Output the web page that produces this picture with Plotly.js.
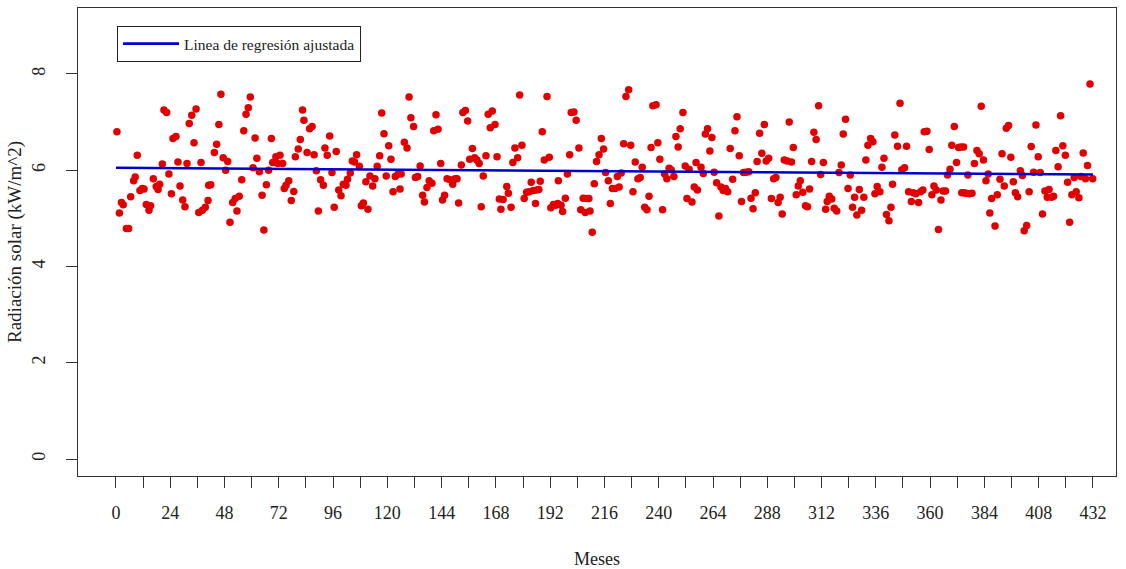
<!DOCTYPE html>
<html>
<head>
<meta charset="utf-8">
<script src="https://cdn.plot.ly/plotly-3.0.1.min.js"></script>
<style>html,body{margin:0;padding:0;background:#fff;}#chart{width:1126px;height:569px;}</style>
</head>
<body>
<div id="chart"></div>
<script>
const months = [
0.4,1.5,2.4,3.2,4.6,5.6,6.5,7.8,8.5,9.4,10.6,11.6,12.4,13.4,14.6,15.3,16.5,17.8,18.6,19.3,20.5,21.2,22.4,23.4,24.5,25.2,26.5,27.4,28.3,29.5,30.5,31.4,32.4,33.5,34.5,35.4,36.6,37.6,38.2,39.5,40.7,
41.0,41.9,43.5,44.5,45.5,46.4,47.4,48.5,49.4,50.4,51.6,52.7,53.5,54.5,55.6,56.5,57.5,58.5,59.4,60.6,61.5,62.3,63.4,64.6,65.4,66.5,67.5,68.7,69.3,70.7,71.5,72.5,73.7,74.4,75.2,76.4,77.5,78.6,79.3,80.6,81.5,82.5,83.1,
84.5,85.6,86.7,87.6,88.6,89.5,90.5,91.7,92.4,93.4,94.5,95.5,96.5,97.4,98.5,99.5,100.5,101.7,102.4,103.6,104.5,105.5,106.4,107.6,108.5,109.4,110.5,111.4,112.3,113.5,114.5,115.5,116.6,117.5,118.5,119.5,120.6,121.6,122.5,123.5,124.8,125.6,126.1,127.5,
128.7,129.6,130.4,131.6,132.4,133.4,134.5,135.6,136.4,137.5,138.5,139.7,140.5,141.5,142.4,143.6,144.4,145.3,146.4,147.8,148.9,150.0,150.8,151.5,152.7,153.4,154.5,155.5,156.4,157.6,158.6,159.6,160.6,161.5,162.4,163.6,164.6,165.5,166.4,167.6,168.5,169.5,170.2,
171.2,172.8,173.5,174.7,175.5,176.4,177.6,178.5,179.5,180.5,181.6,182.7,183.6,184.5,185.5,186.0,187.0,187.6,188.5,189.4,190.6,191.6,192.3,193.4,194.4,195.3,195.6,196.8,197.5,198.7,199.6,200.6,201.3,202.5,203.5,204.7,205.5,206.6,207.5,208.1,209.1,209.6,210.6,211.5,212.5,213.6,
214.6,215.6,216.5,217.7,218.6,219.5,220.7,221.7,222.5,223.4,224.5,225.5,226.7,227.6,228.6,229.6,230.8,231.8,232.7,233.8,234.8,235.7,236.6,237.4,238.8,239.6,240.5,241.7,242.6,243.6,244.6,245.5,246.7,247.6,248.6,249.5,250.7,251.7,252.5,253.4,254.7,255.7,256.5,257.1,
258.7,259.7,260.6,261.6,262.6,263.5,264.5,265.6,266.6,267.5,268.5,269.5,270.5,271.6,272.7,273.7,274.6,275.6,276.6,277.5,278.6,279.8,280.8,281.7,282.7,283.5,284.6,285.6,286.7,287.5,288.6,289.8,290.8,291.8,292.8,293.7,294.6,295.5,296.8,297.7,298.7,299.5,
300.8,301.7,302.6,303.7,304.9,305.8,306.7,307.6,308.6,309.6,310.7,311.6,312.8,313.8,314.5,315.4,316.5,317.6,318.7,319.7,320.7,321.6,322.6,323.7,324.7,325.7,326.6,327.6,328.7,329.7,330.7,331.6,332.5,333.7,334.7,335.6,336.6,337.8,338.7,339.6,340.7,341.8,342.7,343.4,344.4,
345.6,346.7,347.5,348.7,349.6,350.5,351.7,352.5,353.7,354.9,355.8,356.8,357.4,358.6,359.6,360.8,361.7,362.7,363.7,364.8,365.7,366.8,367.7,368.8,369.6,370.7,371.7,372.6,373.6,374.8,374.0,375.0,375.8,377.3,378.5,376.7,379.6,380.7,381.7,382.6,383.6,384.7,385.7,386.4,387.2,
388.7,389.7,390.9,391.8,392.8,393.7,394.7,395.7,396.8,397.7,398.7,399.9,400.8,401.6,402.7,403.8,404.7,405.8,406.8,407.8,408.7,409.7,410.8,411.8,412.6,413.7,414.6,415.6,416.6,417.7,418.7,419.8,420.8,421.7,422.7,423.7,424.6,425.8,426.7,427.7,428.7,429.6,430.7,431.9
];
// Monthly solar radiation (kW/m^2)
const radiation = [
6.80,5.11,5.33,5.28,4.79,4.79,5.45,5.78,5.86,6.31,5.58,5.62,5.61,5.29,5.17,5.26,5.82,5.66,5.60,5.71,6.13,7.25,7.20,5.92,5.51,6.66,6.70,6.17,5.67,5.38,5.24,6.14,6.97,7.14,6.57,7.27,5.12,6.16,5.17,5.23,5.37,
5.69,5.70,6.37,6.54,6.95,7.58,6.26,6.00,6.18,4.92,5.33,5.41,5.15,5.46,5.80,6.82,7.16,7.30,7.52,6.05,6.67,6.25,5.97,5.48,4.76,5.70,6.00,6.66,6.16,6.28,6.14,6.31,6.14,5.62,5.69,5.78,5.37,5.56,6.28,6.44,6.64,7.25,7.04,
6.37,6.86,6.91,6.32,5.99,5.15,5.80,5.69,6.46,6.31,6.71,5.95,5.23,6.39,5.59,5.47,5.71,5.69,5.81,5.94,6.19,6.17,6.32,6.08,5.26,5.32,5.76,5.19,5.88,5.67,5.82,6.08,6.30,7.19,6.76,5.88,6.51,6.23,5.55,5.87,5.92,5.61,5.92,6.58,
6.46,7.52,7.09,6.91,5.85,5.87,6.09,5.48,5.34,5.64,5.78,5.73,6.82,7.15,6.85,6.14,5.38,5.48,5.82,5.80,5.71,5.82,5.82,5.32,6.11,7.20,7.24,7.02,6.23,6.45,6.26,6.21,6.14,5.24,5.88,6.30,7.16,6.88,7.23,6.95,6.28,5.40,5.19,
5.39,5.66,5.52,5.23,6.16,6.46,6.26,7.56,6.52,5.41,5.54,5.55,5.75,5.58,5.31,5.59,5.60,5.77,6.80,6.21,7.53,6.27,5.22,5.29,5.27,5.31,5.78,5.27,5.14,5.42,5.92,6.32,7.20,7.21,7.04,6.46,5.18,5.42,5.12,5.41,5.41,5.15,4.71,5.72,6.18,6.32,
6.66,6.44,5.95,5.78,5.31,5.62,5.62,5.87,5.65,5.94,6.55,7.53,7.67,6.52,5.55,6.17,5.82,5.85,6.06,5.23,5.18,5.46,6.47,7.34,7.36,6.57,6.23,5.18,5.92,5.82,6.04,6.01,5.87,6.70,6.48,6.86,7.20,6.09,5.41,6.02,5.34,5.65,6.16,5.59,
6.06,5.93,6.75,6.86,6.40,6.68,5.96,5.74,5.05,5.65,5.58,5.62,5.55,6.45,5.81,6.82,7.11,6.30,5.35,5.95,5.96,5.97,5.42,5.20,5.53,6.18,6.77,6.35,6.95,6.19,6.25,5.41,5.82,5.85,5.33,5.44,5.09,6.21,6.19,7.00,6.17,6.47,
5.49,5.67,5.78,5.54,5.26,5.24,5.61,6.18,6.79,6.64,7.34,5.91,6.16,5.19,5.35,5.46,5.40,5.21,5.15,5.95,6.11,6.75,7.06,5.62,5.90,5.23,5.44,5.07,5.60,5.17,5.44,6.21,6.52,6.66,6.59,5.51,5.66,5.55,6.06,6.25,5.08,4.95,5.23,5.71,6.73,
6.50,7.39,6.01,6.05,6.50,5.55,5.35,5.53,5.51,5.33,5.55,5.59,6.80,6.81,6.43,5.49,5.67,5.59,4.77,5.38,5.57,5.57,5.90,6.02,6.52,6.91,6.16,6.47,6.48,6.48,5.53,5.53,5.52,5.51,5.52,5.90,6.14,6.41,6.34,7.33,6.21,5.78,5.92,5.11,5.41,
4.84,5.49,5.81,6.34,5.67,6.87,6.93,6.27,5.76,5.53,5.45,5.99,5.89,4.74,4.85,5.55,6.49,5.96,6.94,6.28,5.95,5.09,5.57,5.44,5.60,5.44,5.46,6.41,6.07,7.13,6.51,6.31,5.75,4.92,5.49,5.85,5.55,5.43,5.87,6.36,5.82,6.10,7.79,5.82
];
// Fitted regression line end points
const fitX = [0, 432];
const fitY = [6.05, 5.91];
// Axis ticks
const xTickVals = [];
for (let v = 0; v <= 432; v += 12) xTickVals.push(v);
const xTickText = xTickVals.map(v => (v % 24 === 0 ? String(v) : ''));
const yTickVals = [0, 2, 4, 6, 8];

const serif = 'Liberation Serif, Times New Roman, serif';

const traces = [
  {
    x: months, y: radiation, type: 'scatter', mode: 'markers',
    marker: {color: '#e00000', size: 7.5, line: {width: 0}},
    showlegend: false, hoverinfo: 'x+y'
  },
  {
    x: fitX, y: fitY, type: 'scatter', mode: 'lines',
    line: {color: '#0000cc', width: 2.6},
    name: 'Linea de regresión ajustada'
  }
];

const layout = {
  width: 1126, height: 569,
  margin: {l: 78, r: 10, t: 8, b: 93},
  paper_bgcolor: '#ffffff', plot_bgcolor: '#ffffff',
  font: {family: serif, color: '#222222', size: 18},
  xaxis: {
    range: [-16.8, 442.2], showgrid: false, zeroline: false,
    showline: true, linecolor: '#333333', linewidth: 1, mirror: true,
    ticks: 'outside', ticklen: 11, tickcolor: '#333333', tickwidth: 1,
    tickmode: 'array', tickvals: xTickVals, ticktext: xTickText,
    tickfont: {family: serif, size: 18, color: '#222222'},
    ticklabelstandoff: 9,
    title: {text: 'Meses', font: {family: serif, size: 18, color: '#222222'}, standoff: 31},
    automargin: false
  },
  yaxis: {
    range: [-0.353, 9.37], showgrid: false, zeroline: false,
    showline: true, linecolor: '#333333', linewidth: 1, mirror: true,
    ticks: 'outside', ticklen: 11, tickcolor: '#333333', tickwidth: 1,
    tickmode: 'array', tickvals: yTickVals,
    tickangle: -90,
    tickfont: {family: serif, size: 18, color: '#222222'},
    ticklabelstandoff: 14,
    title: {text: 'Radiación solar (kW/m^2)', font: {family: serif, size: 19, color: '#222222'}, standoff: 2},
    automargin: false
  },
  legend: {
    x: 0.0376, y: 0.9615, xanchor: 'left', yanchor: 'top',
    bordercolor: '#222222', borderwidth: 1, bgcolor: '#ffffff',
    font: {family: serif, size: 15.5, color: '#222222'},
    itemwidth: 56
  },
  showlegend: true
};

Plotly.newPlot('chart', traces, layout, {displayModeBar: false, staticPlot: true});
</script>
</body>
</html>
